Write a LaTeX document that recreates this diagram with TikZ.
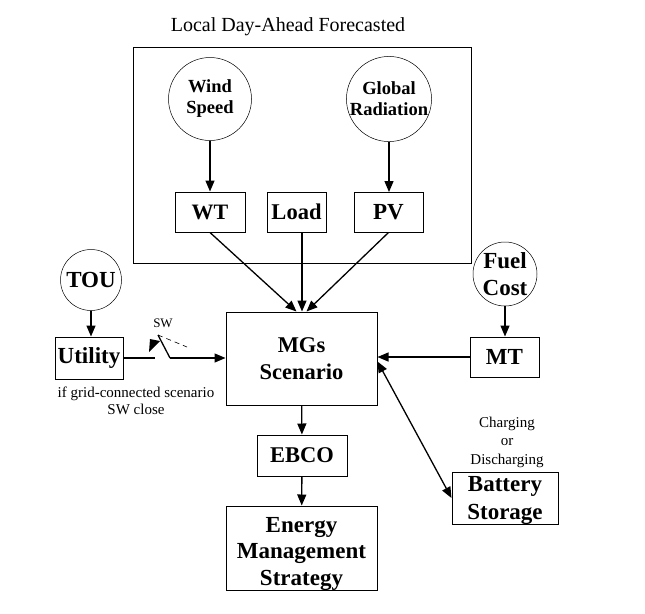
\documentclass[tikz,border=0pt]{standalone}
\usepackage{fontspec}
\setmainfont{Liberation Serif}
\usetikzlibrary{arrows.meta}
\begin{document}
\begin{tikzpicture}[x=1pt,y=-1pt,
  box/.style={draw,line width=1pt,inner sep=0pt,align=center,font=\fontsize{22.5}{26}\selectfont\bfseries},
  boxtext/.style={inner sep=0pt,align=center},
  circ/.style={draw,circle,line width=0.5pt,inner sep=0pt,align=center},
  arr/.style={line width=1.3pt,-{Triangle[length=11pt,width=9pt]}},
  note/.style={font=\fontsize{15}{17}\selectfont,align=center}]
\useasboundingbox (0,0) rectangle (645,613);
% title and outer box
\node[font=\fontsize{20}{22}\selectfont] (title) at (288,27) {Local Day-Ahead Forecasted};
\draw[line width=1pt] (133,47) rectangle (471,263);
% forecasting
\node[circ,minimum size=83pt,font=\fontsize{18.5}{21}\selectfont\bfseries] (wind) at (210,99) {Wind\\Speed};
\node[circ,minimum size=85pt,font=\fontsize{18.5}{21}\selectfont\bfseries] (glob) at (389,99) {Global\\Radiation};
\node[box,minimum width=70pt,minimum height=40pt,font=\fontsize{22}{26}\selectfont\bfseries] (wt) at (210,212) {WT};
\node[box,minimum width=59pt,minimum height=40pt] (load) at (296.5,212) {Load};
\node[box,minimum width=69pt,minimum height=40pt,font=\fontsize{23}{26}\selectfont\bfseries] (pv) at (388.5,212) {PV};
% main chain
\node[box,minimum width=151pt,minimum height=93pt,font=\fontsize{22.5}{27}\selectfont\bfseries] (mgs) at (301.5,358.5) {MGs\\Scenario};
\node[box,minimum width=90pt,minimum height=41pt] (ebco) at (302,455.5) {EBCO};
\node[box,minimum width=151pt,minimum height=84pt] (ems) at (301.5,548) {};
\node[boxtext,font=\fontsize{23}{26.5}\selectfont\bfseries] (emstext) at ([yshift=-6pt]ems.center) {Energy\\Management\\Strategy};
% left side
\node[circ,minimum size=61pt,font=\fontsize{23}{26}\selectfont\bfseries] (tou) at (91,280) {TOU};
\node[box,minimum width=68pt,minimum height=42pt,font=\fontsize{23}{26}\selectfont\bfseries] (util) at (89,358) {Utility};
\node[note] (cond) at (136,401) {if grid-connected scenario\\SW close};
% right side
\node[circ,minimum size=64pt,font=\fontsize{23}{27}\selectfont\bfseries] (fuel) at (505,274) {Fuel\\Cost};
\node[box,minimum width=69pt,minimum height=40pt,font=\fontsize{23}{26}\selectfont\bfseries] (mt) at (504.5,357) {MT};
\node[box,minimum width=106pt,minimum height=52pt] (bat) at (505,498) {};
\node[boxtext,font=\fontsize{23}{28}\selectfont\bfseries] (battext) at ([yshift=-3pt]bat.center) {Battery\\Storage};
\node[note,font=\fontsize{15}{18.5}\selectfont] (chg) at (507,442) {Charging\\or\\Discharging};
% arrows
\draw[arr] (wind) -- (wt);
\draw[arr] (glob) -- (389,192);
\draw[arr] (wt.south) -- ([xshift=-5pt]mgs.north);
\draw[arr] (load.south -| 302,0) -- (mgs.north -| 302,0);
\draw[arr] (pv.south) -- ([xshift=5pt]mgs.north);
\draw[arr] (tou) -- (tou.south |- util.north);
\draw[arr] (fuel) -- (fuel.south |- mt.north);
\draw[arr] (mt.west) -- (mgs.east |- mt.west);
\draw[line width=1.3pt,{Triangle[length=11pt,width=9pt]}-{Triangle[length=11pt,width=9pt]}] ([yshift=-3pt]mgs.east) -- (bat.west);
\draw[arr] (mgs) -- (ebco);
\draw[arr] (ebco) -- (ems);
% switch
\coordinate (s1) at (155,358);
\coordinate (s2) at (170,358);
\coordinate (s3) at (158,335);
\draw[line width=1.3pt] (util.east |- s1) -- (s1);
\draw[line width=1.3pt] (s3) -- (s2);
\draw[arr] (s2) -- (mgs.west |- s2);
\draw[line width=0.6pt,dash pattern=on 5pt off 4pt] (s3) -- (187,347);
\fill (149,352) -- (150,339) -- (160,341) -- cycle;
\node[font=\fontsize{13}{15}\selectfont] (swl) at (163,323) {SW};
\end{tikzpicture}
\end{document}
